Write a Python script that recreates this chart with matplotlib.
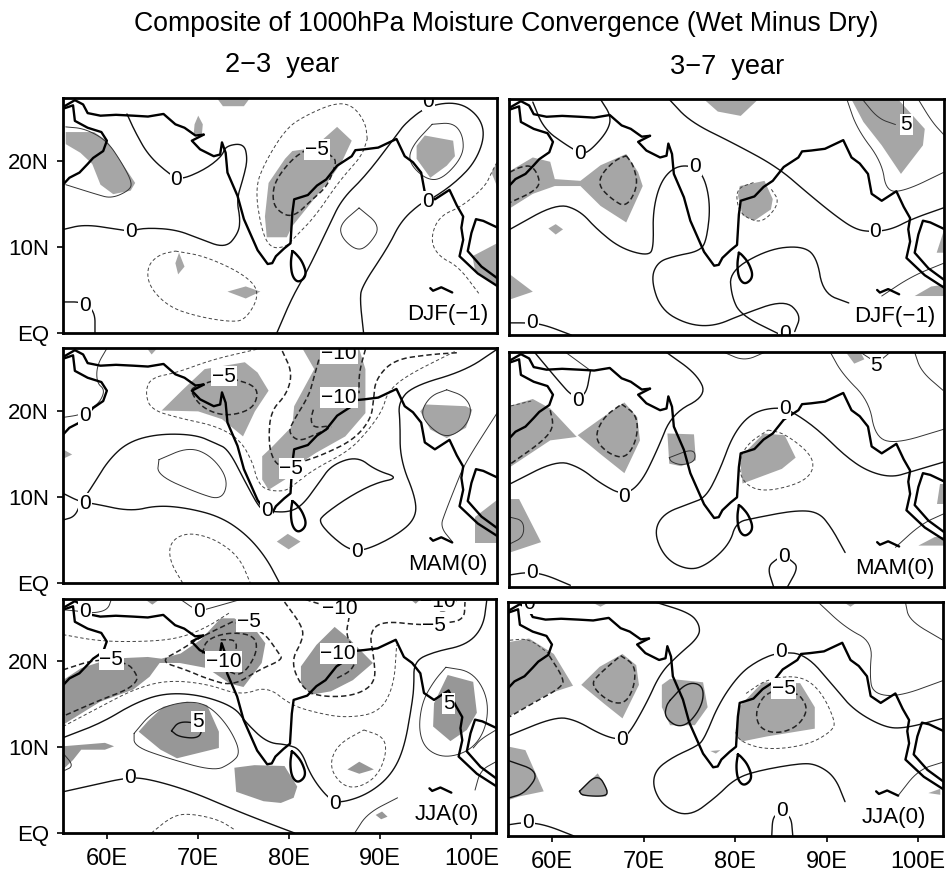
import matplotlib
matplotlib.use("Agg")
import matplotlib.pyplot as plt
from matplotlib.patches import Polygon

plt.rcParams['font.family'] = ['Liberation Sans', 'DejaVu Sans']

W, H = 947, 875
LON_MIN, LON_MAX = 55.2, 102.7
LAT_MIN, LAT_MAX = 0, 27.25

title = "Composite of 1000hPa Moisture Convergence (Wet Minus Dry)"
col_titles = ["2\u22123  year", "3\u22127  year"]
lon_ticks = [60, 70, 80, 90, 100]
lon_labels = ["60E", "70E", "80E", "90E", "100E"]
lat_ticks = [0, 10, 20]
lat_labels = ["EQ", "10N", "20N"]

# coastlines (lon, lat)
coast_iran = [(55.2,26.2),(56.5,27.0),(57.4,26.5),(57.9,25.5),(59.3,25.2),(61,25.3),(62.9,25.2),(64.5,25.1),(66.2,25.4),(67.5,24.2),(68.5,23.8),(69.7,22.9),(70.6,23.0)]
coast_arabia = [(55.2,26.0),(56.3,26.4),(56.5,24.6),(57.9,23.8),(59.4,23.3),(60,22.3),(59.6,21.1),(58.5,20.3),(57.9,19.6),(57,18.6),(55.9,18),(55.2,17.2)]
coast_india = [(70.6,23.0),(69.3,22.3),(70.2,21.3),(71.7,20.5),(72.4,20.7),(72.6,22.1),(73,20.9),(73.2,18.6),(74.3,15.9),(75,13.2),(76.5,9.6),(77.6,8),(78.1,8.1),(78.5,8.9),(79.4,9.8),(80.1,10.4),(80.3,13.9),(80.5,15.5),(82,16),(83,17.1),(84,17.8),(85.2,19.4),(86.8,20.5),(87.2,21.2),(88.2,21.3),(89.7,21.5),(91.7,22.5),(92.6,20.5),(93.5,19.8),(94.4,18.6),(94.8,16.3),(95.9,15.5),(97.5,16.6),(98.3,14.8),(99,13.5),(98.8,12.2),(99,10.8),(98.6,8.9),(100.6,6.9),(102.8,5.4)]
coast_thai = [(102.8,12.2),(101.2,13),(100.4,13.2),(99.9,11.6),(99.5,9.5),(101,7.7),(102.8,6.3)]
coast_sumatra = [(95.4,5.2),(95.7,4.9),(96.6,5.3),(97.8,4.7)]
coast_lanka = [(80.3,9.5),(80.1,8.1),(80.3,6.5),(81,5.8),(81.9,6.7),(81.4,8.3),(80.6,9.3),(80.3,9.5)]
coastlines = [coast_iran, coast_arabia, coast_india, coast_thai, coast_sumatra]

# 2-3 year DJF(-1)
djf23_shade = [
    [(55.5,23.3),(58.6,23.3),(60,22.3),(60.9,20.9),(63.1,17.4),(62.6,16.5),(60.7,16.1),(59.3,17.2),(58.4,19.6),(57.1,20.9),(55.5,21.9)],
    [(72,27.3),(75.7,27.3),(75,26.3),(72.7,26.3)],
    [(70,25.2),(70.5,24.2),(70.4,23),(69.5,23),(69.6,24.2)],
    [(67.9,9.3),(68.5,7.7),(67.8,6.8),(67.5,8.1)],
    [(73.2,4.8),(75.2,5.4),(76.8,4.8),(75.2,4.0)],
    [(80.3,21.1),(81.6,21.3),(84.1,20.5),(83.7,22.5),(85.2,23.9),(86.8,22.3),(85.7,19.8),(84.1,17.4),(80.3,12.4),(79.7,11.1),(77.5,11.1),(77.3,13.5),(77.7,17.4),(79.5,20.2)],
    [(94.8,22.9),(97.9,22.3),(98.1,20.5),(97.2,19.4),(95.4,18),(93.9,20.2),(93.9,21.7)],
    [(102.7,10.4),(102.7,5.4),(100.3,7.3),(100,8.9)],
    [(102.7,19.8),(102.1,18.6),(102.7,17)],
]
djf23_zero = [
    [(62.2,25.4),(63.1,23.3),(64.6,20.5),(67.1,18.2),(68.2,17.8),(70.8,19),(72.6,20.5),(73,21.7),(75,22),(75.4,20.2),(75,18.2),(74.2,15.5),(74.6,13.2),(74.4,11.6),(73,9.8),(70,11),(67.5,12),(64.2,12.2),(62.6,11.8),(61.3,12),(57.6,12.6),(55.2,12)],
    [(78.6,0),(80.3,4.2),(81.9,7.1),(84.3,12.4),(85.7,15.5),(88.3,18.2),(91.4,22.5),(92.7,24.4),(95.2,26.4),(98.5,26.8),(100.7,25.2),(101.4,22.9),(100.3,19.8),(98.1,17.4),(95.5,15.5),(94.4,15.1),(92.2,13),(90.8,10),(87.9,5.4),(87.7,3.8),(88.1,0)],
    [(55.3,3.6),(57.3,3.6),(58.7,2.5),(58.7,0)],
]
djf23_thin = [
    [(55.5,23.9),(57.6,23.7),(60,22.3),(61.6,19.8),(62.8,17.4),(62.4,16.5),(60.5,15.6),(58.8,16.1),(55.5,17.2)],
    [(95.6,24.2),(97.9,24.4),(99,22.9),(99,20.5),(96.7,17.8),(94.9,17.8),(93,19.8),(93.4,21.7),(95.6,24.2)],
    [(87.6,14.5),(90,12.4),(88.7,10.2),(87.4,9.5),(85.7,11),(85.5,12.6),(87.6,14.5)],
]
djf23_dash = [
    [(81.9,21.3),(80.3,20.2),(78.5,17.8),(78.1,15.9),(78.5,14.3),(80.3,13.3),(82.5,15.5),(84.1,17),(85,19.4),(85,20.2),(84.3,20.7)],
]
djf23_thindash = [
    [(88.5,22.5),(88.3,24.4),(86.9,26.4),(85,26.7),(81.7,25.2),(79.6,23.7),(77.3,19.8),(76.2,16.7),(77,11.6),(78,9.8),(79.6,10),(80.3,10.8),(82.8,13.5),(85.4,17.6),(87.9,20.5),(88.5,22.5)],
    [(67.5,9.5),(70.8,8.9),(75.2,6.7),(76.8,4.6),(75.2,1.5),(73.4,1.3),(70,1.9),(66.8,3),(64.6,5.4),(64.4,7.7),(65.7,9.1),(67.5,9.5)],
    [(102.7,19.8),(102.1,18.6),(101.4,17),(98.9,14.7),(96.3,13.5),(95.4,10.8),(96.3,8.9),(98.5,7.7),(100.7,4.6)],
]
djf23_labels = [("0",67.6,17.8),("0",62.6,11.8),("0",57.6,3.2),("0",95.1,15.3),("0",95.2,26.9),("\u22125",83,21.3)]

# 2-3 year MAM(0)
mam23_shade = [
    [(55.2,15.5),(56.2,14.9),(55.2,14.4)],
    [(64.4,27.2),(65.5,27.2),(64.9,26.5)],
    [(66,20),(68.3,22.4),(70.7,24.8),(75.1,25.6),(76.5,24.4),(77.7,22.3),(76.2,19.9),(74.9,17),(72.6,19),(70,19.9)],
    [(81.4,27.2),(87.6,27.2),(88.3,24.8),(88.3,19.7),(86.1,17),(82.9,15.1),(80.6,13.5),(79.5,12),(77.7,10.8),(77,12),(77,14.7),(78.1,15.8),(80.3,18.2),(80.5,20.5),(82.7,24.8)],
    [(94.3,19.9),(94.9,20.7),(99.3,20.5),(100,20.1),(99.3,18),(97.2,16.8),(95.4,17.8)],
    [(78.6,4.8),(79.8,5.7),(81.2,4.8),(79.9,3.9)],
    [(102.7,9.6),(102.7,4.6),(100.3,4.6),(100.3,7.7)],
]
mam23_zero = [
    [(55.2,10.4),(57.1,9.4),(58.6,9.2),(62.6,8.3),(65.5,9),(68.8,8.7),(72.4,7.7),(75.2,5.7),(77.4,3),(78.9,0)],
    [(55.2,7.3),(56.5,7.7),(57.1,9.2),(58.4,11.2),(60.2,14.3),(62.4,16.4),(65.7,17.3),(69.7,17.2),(71.9,16.2),(73.3,15.5),(75.2,11.6),(76.8,8.5),(77.7,8.3),(79.9,8.2),(81.4,9),(83.2,11.6),(84.6,13.7),(87.4,14.7),(89.4,13.1),(92,12.2),(89.4,11.6),(86.5,10),(83.7,7.9),(83.2,7.1),(84.6,5.4),(86.6,3.8),(88.3,3.8),(91.5,5.4),(93.7,7.3),(93.9,9.6),(92.1,14.3),(92.1,18.6),(91.9,20.9),(93.4,22.8),(99.2,24.6),(102.7,27.1)],
]
mam23_thin = [
    [(65.7,14.3),(69,15.8),(71.5,14.7),(73.3,12),(72.6,9.6),(70,10.4),(65.5,12.5),(65.7,14.3)],
    [(97.2,22.4),(99.1,21.7),(100,20.1),(99.2,18),(97.2,16.8),(95.4,18),(94.3,19.7),(95.4,21.7),(97.2,22.4)],
    [(60,27.2),(58.9,25.2),(58.9,23.2),(59.8,22.4),(59.2,20.9),(58,20.1),(57.1,19.5),(55.2,19.2)],
    [(102.7,19.7),(99.2,13.9),(98.3,11.6),(97,8.1),(96.5,6.5),(97.8,4.8)],
]
mam23_dash = [
    [(71.5,23.4),(69.7,22.8),(69.1,22.3),(70.4,20.3),(73,19.3),(75.9,20.1),(76.6,22),(75.9,23),(74,23.6)],
    [(79.2,26.9),(80.3,24.4),(79.7,21.9),(77.9,19.9),(77.7,16.2),(78.2,14.3),(79,13.5)],
    [(83.2,25.9),(82.6,23.6),(82.1,21.7),(80.3,18.6),(79.9,17.4),(81,16.4),(82.8,17.2),(84.6,18.1)],
    [(82.6,20.1),(82.3,19),(82.6,18),(84.3,18.2)],
    [(98.3,26.7),(95.4,26.5),(91.4,25.9),(89.4,23.6),(89.2,21.3),(88.9,19),(87,16.6),(83.7,14.9),(81.5,14.1)],
    [(88.3,27.1),(87.6,24.4),(87.6,22)],
]
mam23_thindash = [
    [(76.4,27.1),(71.5,25.9),(67.7,24.4),(64.8,23.8),(64.2,22.1),(64.8,20.1),(68,19.1),(72,18.2),(74.6,16.6),(76,13.9),(76.4,12),(77.3,10.8),(79.3,10.6),(80.3,11.2),(82.5,13.1),(86.5,15.3),(88.7,17.8),(90.2,20.1),(90.7,22.1),(92.7,24),(98.2,26.9)],
    [(68.3,0),(67,2.3),(66.8,4.2),(67.7,5.4),(69.4,5.8),(72,5),(74.5,3),(75.7,0)],
]
mam23_labels = [("\u22125",72.8,24),("\u221210",85.4,26.6),("\u221210",85.4,21.5),("\u22125",80.2,13.3),("0",57.6,19.4),("0",57.6,9.2),("0",77.5,8.4),("0",87.4,3.7)]

# 2-3 year JJA(0)
jja23_shade = [
    [(64.2,27.2),(65.8,27.2),(65,26.6)],
    [(55.2,17.8),(57.2,19.2),(60.4,20.3),(64.5,20.5),(66,20.3),(68.1,20.9),(70.3,22.5),(72.5,25),(74,25),(76.5,23.4),(77.4,22.1),(77,19.8),(75,17),(73.5,17.4),(71,19.2),(68,19.8),(65.8,19.8),(64.7,18.2),(62.9,16.7),(59.3,15.3),(55.2,12.6)],
    [(55.2,10.1),(59.8,10.5),(60.8,10.1),(59.8,9.7),(57.2,9.7),(56.3,8.5),(55.2,7.4)],
    [(66.2,14.7),(68.8,15.3),(71,14.9),(72.3,11.8),(72.3,9.9),(67.7,8.7),(65.9,9.7),(63.5,11.8),(64.5,13)],
    [(74,7.6),(76.2,7.9),(79.5,7.8),(80.9,5.4),(80.5,4.1),(79.1,3.5),(77.2,3.7),(74.2,4.8)],
    [(81.3,19.4),(83,21.9),(85,24),(86.7,22.5),(89.2,19.8),(87,17.8),(84.6,16.5),(82.4,16.1),(81.3,17.4)],
    [(86.4,7.4),(87.7,8.3),(89.3,7.4),(87.7,6.9)],
    [(89.5,2.1),(90.2,2.5),(90.8,1.9),(90.1,1.6)],
    [(95.9,15.1),(97.4,18.4),(100.2,17.6),(100.6,14),(99.5,12),(97.7,10.7),(95.8,12.4)],
    [(93.3,27.2),(94.4,27.2),(93.9,26.7)],
]
jja23_zero = [
    [(55.2,4.8),(58.6,5.6),(62,6.4),(64.2,6.4),(68.9,5),(74,2.7),(77.6,1.2),(80.6,0)],
    [(55.2,11.1),(59.4,12.8),(63,15.1),(66.3,16.3),(70.2,16.1),(74,14.7),(75.3,12.8),(77.6,10.5),(79.8,10.3),(81.3,9.7),(82.4,6.6),(84.4,3.9),(85.7,3.5),(88.6,4.5),(91.1,6.6),(92.6,9.7),(93.5,15.1),(93.7,17.1),(93.7,20),(95.9,21.1),(99.5,21.9),(101.3,24),(101.7,27.2)],
    [(67.1,11.9),(67.9,13),(70,12.8),(70.5,12),(70,11),(67.9,11.2),(67.1,11.9)],
]
jja23_thin = [
    [(87.2,0),(88.6,2.3),(91.9,4.1)],
    [(55.2,26),(57.2,25.8),(58.6,25.6),(60.1,26),(60.5,27.2)],
    [(68.1,27.2),(70,25.8),(71.4,26.2),(74.7,27.2)],
    [(97.2,19.3),(100.1,18.8),(101.8,15.9),(101.7,12.4),(100.1,9.7),(97.2,8.7),(95,9.7),(94.2,12),(94.6,15.3),(95.9,17.7),(97.2,19.3)],
    [(63,11.6),(64.9,14),(67.4,15.1),(70,15.3),(71.8,14.3),(73.6,12),(74.7,9.3),(73.6,8.1),(71.8,7.2),(66.7,8.7),(63,10.1),(63,11.6)],
    [(55.2,9.3),(56.4,7.8),(55.2,7.2)],
    [(102.7,12),(101,10.9),(100.2,9.9)],
    [(102.7,8.3),(101,7.3),(100.4,5)],
]
jja23_dash = [
    [(55.2,19),(59,20.3),(62.3,19.8),(63.2,18.6),(63.4,17.8),(62.3,16.7),(59.3,15.5),(55.2,13.6)],
    [(73.8,24.6),(70.1,22.7),(68.1,21.3),(65.8,20),(68.7,19),(70.9,18),(73.8,17.1),(76.7,19),(79.3,20.2),(78.9,20.9),(77.1,23.6),(73.8,24.6)],
    [(70.5,20.9),(70.9,22.5),(73.4,23.4),(76.3,23),(76.5,20.9),(74.8,18.2),(73,19)],
    [(72.5,22.5),(74.3,22.5),(74.1,20.7)],
    [(79.5,26.9),(81.5,24),(81.5,22.5),(80.2,20),(81.3,17.1),(83,15.9),(87,15.9),(89.5,17.4),(89.3,20.5),(88.8,23.3),(90.2,24.7),(94.6,24.2),(96.8,24.4),(99.2,24.8),(99.3,26.9)],
    [(86.6,25.2),(86.2,22.9),(87.5,21),(87,19),(85.2,18)],
    [(94.8,26.5),(97.2,25.6),(98.3,27)],
    [(81.8,27.2),(83.5,26.6),(86.6,26)],
]
jja23_thindash = [
    [(55.2,23.1),(59.4,22.3),(64.7,22.3),(68,22.7),(70.9,23.9),(73.4,25.6)],
    [(55.2,12.4),(59.3,14.7),(62.9,16.7),(66.5,17.8),(70.9,17.4),(74.7,16),(77.6,17.1),(80.2,14.9),(83,14),(86.2,13.4),(89.9,14),(91.5,17.1),(91.8,21.9)],
    [(88.2,12),(90.4,11.2),(90.7,9.3),(89.7,6.6),(87.5,5.2),(85.7,5.6),(84.4,7.8),(85.3,10.3),(88.2,12)],
    [(64.9,0),(67.1,1.9),(68.9,2.3),(72.2,1.6),(74,0.4)],
]
jja23_labels = [("0",57.6,25.8),("0",70.1,25.8),("\u22125",75.6,24.6),("\u221210",85.6,26.2),("\u221210",96.3,27.0),("\u22125",95.9,24.2),("\u22125",60.5,20.2),("\u221210",72.8,20),("\u221210",85.4,20.9),("5",70,13),("5",97.5,15.1),("0",62.5,6.5),("0",85,3.4)]

# 3-7 year DJF(-1)
djf37_shade = [
    [(55.4,19),(57.8,20.5),(59.7,20),(60.2,18),(63,17.8),(65.2,19.6),(68,20.9),(69.3,18.8),(69.8,17.2),(68,13),(65.2,14.9),(63,17.2),(60.2,17.2),(57.8,16.3),(55.4,14.7)],
    [(59.5,12.3),(60.3,12.8),(61.1,12.2),(60.3,11.6)],
    [(55.3,7),(57.8,5),(55.3,4.1)],
    [(76.5,27.2),(82.4,27.2),(80.5,25.3),(78,25.8)],
    [(80.4,17.2),(83.1,17.8),(84,15.7),(83.8,14.5),(82,13.2),(80.7,13.8),(80.2,16.1)],
    [(92.6,27.2),(97.7,27.2),(100.6,23.8),(100.4,21.9),(98,18.6),(95.9,21.9),(93.9,24.6)],
    [(102.6,11.8),(102.7,9.5),(101.9,9.5)],
    [(99.5,4.5),(101.3,5.6),(102.7,5.8),(102.7,4.5)],
]
djf37_zero = [
    [(65.2,27.2),(66.4,25.2),(65.9,23.4),(63.9,21.1),(63,21),(61.5,21.9),(59,23.8),(57.8,26.9)],
    [(55.3,12.2),(60.4,15.2),(62.9,14.4),(64.8,12.2),(67.4,10),(70.5,9.1),(71,10.3),(70.9,14.2),(71.7,17.6),(73.2,19.4),(75.1,19.6),(76.5,18.4),(77.2,15),(76.8,11.1),(76.1,9.7),(73.2,9.1),(71.4,8.4),(70.7,6.4),(71.8,2.9),(74.7,1.2),(77.6,1),(80.5,2.3),(85.3,4.1),(87.1,2.3),(86.4,0.4)],
    [(72.7,27.2),(75,24.6),(79.8,22.1),(84.5,19.4),(87.9,16.3),(90.8,13.8),(93,12.2),(94.8,11.9),(97,12.2),(99.2,13.4),(102.7,14.7)],
    [(92.3,3.7),(89.5,4.8),(88.8,9.1),(87.1,10.3),(83.5,9.9),(79.3,7.4),(79.5,4.5),(80.5,2.3),(84.9,0)],
    [(55.3,1.4),(57.3,1.4),(59,1.2),(62,0)],
]
djf37_thin = [
    [(92.1,27.2),(93.2,23.8),(95.9,20),(96.4,16.5),(98.6,16.7),(102.7,18.8)],
    [(99.9,27.2),(101.4,24.6),(102.7,23.1)],
    [(93.8,27.2),(95.5,25),(97.4,24.3)],
    [(98.2,27.2),(98.2,25.4)],
    [(95.9,4.5),(99.2,6.8),(102.7,8.3)],
]
djf37_dash = [
    [(55.3,18.8),(56.4,19.4),(57.8,19.6),(58.7,17.6),(57.8,16.5),(55.3,15.3)],
    [(68,20.7),(68.8,19.6),(69.3,17.2),(68,14.7),(66.4,15.7),(65,17.2),(65.3,18.6),(66.8,20.2),(68,20.7)],
]
djf37_thindash = [
    [(81.9,17.6),(80,16.9),(80.2,14.5),(81.3,13.4),(83,13),(84.8,15.3),(83.8,16.9)],
]
djf37_labels = [("0",62.9,21),("0",75.5,19.5),("0",95.2,11.9),("0",57.7,1.4),("0",85.3,0.2),("5",98.6,24.3)]

# 3-7 year MAM(0)
mam37_shade = [
    [(55.3,21),(57.8,21.8),(59.7,20.7),(62.6,17.4),(59.7,17),(55.3,13.9)],
    [(62.7,17.6),(65.2,19.5),(67.8,21.4),(69.2,19.7),(69.5,17),(67.8,13.2),(65.2,15.4)],
    [(72.5,17.8),(75.4,17.7),(75.6,14.7),(74,14),(72.7,14.3)],
    [(80.4,15),(83,17.8),(85.3,17.6),(86.5,15),(85,13.7),(80.7,12)],
    [(55.3,10.2),(56.3,10.2),(58.7,5.2),(55.3,4)],
    [(92,27.2),(93.6,27.2),(94,26.4),(92.9,25.9)],
    [(102.3,12),(102.7,12),(102.7,9.6),(101.9,9.6)],
    [(99.9,4.8),(101.7,5.8),(102.7,5.8),(102.7,4.8)],
]
mam37_zero = [
    [(58,27.2),(60.6,23.9),(62.2,22),(63.6,22.2),(64.1,25.1)],
    [(55.4,12),(60.4,14.7),(62.9,13.9),(65.2,12),(67.7,10.6),(69.6,12),(71.4,15.9),(73,20.1),(76.8,22.2),(75.7,24.7),(72.4,27.2)],
    [(91.9,4),(90.4,6.9),(89,8.7),(86.5,8.9),(82,8),(80,7.5),(79.3,5),(77,2.7),(75,1.9),(72.4,3.1),(71,6.2),(72,8.5),(75,9.7),(76.7,10.4),(78.2,13.5),(79.7,17.8),(81.8,20.3),(84.8,20.9),(86.5,20.1),(89,18.2),(92,15.1),(94.4,13.4),(97,12.7),(99.2,13.4),(102.7,14.5)],
    [(55.3,1.4),(57.1,1.7),(59,1.5),(61.9,0.2)],
    [(84.1,0),(83.4,2.3),(84.5,3.3),(85.2,3.6),(86,3.1),(86.8,2.3),(85.6,0)],
]
mam37_thin = [
    [(61.4,27.2),(64.1,25.1)],
    [(78.7,27.2),(80.9,26.2),(83.1,27.2)],
    [(90.3,27.2),(91.6,24.7),(94.5,21.6),(95.2,17.4),(97.4,16.6),(102.7,18.3)],
    [(99.5,27.2),(100.2,25),(102.6,22.8)],
    [(93.6,27.2),(94.9,26.3)],
    [(95.9,26.4),(96.8,27.2)],
    [(97.4,4.6),(100.2,7.3),(102.7,8.5)],
    [(72.7,15),(75.4,16.1),(75.6,14.6),(74.1,14.1),(72.9,14.5),(72.7,15)],
    [(55.3,8.1),(56.8,7.7),(56.8,5.8),(55.3,5)],
]
mam37_dash = [
    [(59.7,20.5),(60.1,18.6),(59,17),(55.4,14.3)],
    [(67.5,21.2),(69.2,19.9),(69.2,17.2),(68,14.9),(66.1,15.4),(64.5,17.2),(65.5,19.7),(67.5,21.2)],
]
mam37_thindash = [
    [(55.4,21),(57.8,21.6)],
    [(83.5,18.2),(85.3,17.8),(88.2,15.4),(88.5,13.5),(87,12),(83,11),(80.8,12),(80.2,14.3),(81.2,16.6),(83.5,18.2)],
]
mam37_labels = [("0",62.7,21.6),("0",67.8,10.5),("0",85.3,20.7),("0",57.7,1.7),("0",85.2,3.5),("5",95.3,25.7)]

# 3-7 year JJA(0)
jja37_shade = [
    [(55.4,22.6),(57.5,23),(60.2,21.2),(62.3,17.5),(59.7,16.6),(55.3,13.9)],
    [(63.2,17.6),(65.2,19.7),(67.7,21.2),(69.2,19.9),(69.5,17.6),(67.7,13.7),(65.7,15.4)],
    [(72,17.6),(72.9,18.3),(76.5,17.9),(77,15),(75.6,12.9),(72.9,12.9),(72,15)],
    [(80.4,15),(83,17.9),(87.1,17.8),(88.7,15),(88.7,12.5),(83.5,11.6),(80.7,11),(80,11.9)],
    [(77.3,9.9),(78.4,10),(77.9,9.6)],
    [(55.3,10.4),(57.1,10),(59.1,5.2),(56.4,4.6),(55.3,4.2)],
    [(63,5.2),(65,7.3),(66.1,5.3),(65.9,4.6),(63.3,4.7)],
    [(64.4,27.2),(66.2,27.2),(65.3,26.7)],
    [(91.9,27.2),(93.3,27.2),(92.6,26.7)],
    [(101.1,5),(102.4,5.5),(102.4,4.8)],
]
jja37_zero = [
    [(71.4,27.2),(75,26),(76.1,24.7),(76.1,23.2),(73.6,20.9),(71.8,18.9),(70.3,15.4),(68.3,11.7),(67.2,11.2),(65.2,11.9),(62.6,13.5),(60.4,13.9),(55.3,11.7)],
    [(92,4),(90.9,6.9),(89,8.3),(87.2,8.5),(82,7.5),(79.8,6.5),(78,4.6),(75,2.2),(72.2,3.4),(71,5.7),(71.3,7.7),(73.2,9.2),(75.7,10.4),(76.6,11.2),(78.2,15.4),(80.5,18.9),(82.6,20.5),(84.8,21.4),(87.7,21.2),(90.8,17.4),(92.9,14.7),(96.2,12.7),(98.4,12.5),(102.7,13.7)],
    [(55.2,1.3),(57.1,1.6),(59.3,1.3),(62.4,0)],
    [(84,0),(84.1,2.2),(84.8,2.6),(86.1,2.4),(86.3,0)],
    [(72.9,15.8),(74.7,17.9),(76.5,17.6),(76.5,15.4),(75,13.1),(73.6,12.7),(72.3,13.9),(72.5,15.2),(72.9,15.8)],
    [(63,5.2),(65,7.3),(66.1,5.3),(65.9,4.6),(63.3,4.7),(63,5.2)],
    [(55.2,8.8),(58.7,7.5),(57.1,5),(55.2,4.4)],
]
jja37_thin = [
    [(89.1,27.2),(92,24.3),(95,22.6),(94.7,18.9),(95,16.6),(97.8,16.2),(102.7,18.1)],
    [(98.6,27.2),(99,25.1),(102.7,22.8)],
    [(97.8,4.7),(100,7.7),(102.7,8.6)],
]
jja37_dash = [
    [(59.7,21),(61.2,18.5),(61.2,17.4),(57.8,15.4),(55.4,13.9)],
    [(67.5,21),(69.1,19.9),(69,17.4),(68,15.4),(66.2,15.6),(64.2,17.6),(65.2,18.9),(67.5,21)],
    [(84,16.8),(83,16.2),(82.2,14.3),(82.7,12.5),(84.6,11.9),(86.8,12.7),(88,14.7),(87.1,16.4),(86.4,16.6)],
]
jja37_thindash = [
    [(55.4,22.8),(57.5,23),(59.7,21.2)],
    [(81.2,16.6),(83.5,18.3),(87.1,18.7),(89.3,17),(90.9,13.5),(90.7,12.3),(88,10.6),(83.5,10),(80.5,11),(80,12.3)],
]
jja37_labels = [("0",57.5,27.1),("0",67.6,11.2),("0",85,21.5),("0",57.4,1.6),("0",85.1,3),("\u22125",85.3,17.2)]

seasons = ["DJF(\u22121)", "MAM(0)", "JJA(0)"]


def round_corners(line, passes=3):
    # corner cutting so the read-off vertices draw as a curve, ends stay put
    pts = list(line)
    for _ in range(passes):
        new = [pts[0]]
        for a, b in zip(pts[:-1], pts[1:]):
            new.append((0.75*a[0]+0.25*b[0], 0.75*a[1]+0.25*b[1]))
            new.append((0.25*a[0]+0.75*b[0], 0.25*a[1]+0.75*b[1]))
        new.append(pts[-1])
        pts = new
    return pts


def draw_lines(ax, lines, smooth=True, **kw):
    for line in lines:
        pts = round_corners(line) if smooth else line
        xs, ys = zip(*pts)
        ax.plot(xs, ys, solid_capstyle='round', **kw)


def panel(box, shade, zero, thin, dash, thindash, labels, season, gray='#a6a6a6'):
    left, top, right, bottom = box
    ax = fig.add_axes([left/W, 1-bottom/H, (right-left)/W, (bottom-top)/H])
    ax.set_xlim(LON_MIN, LON_MAX)
    ax.set_ylim(LAT_MIN, LAT_MAX)
    for poly in shade:
        ax.add_patch(Polygon(poly, closed=True, fc=gray, ec='none', zorder=1))
    draw_lines(ax, zero, color='#111111', lw=1.0, zorder=2)
    draw_lines(ax, thin, color='#333333', lw=0.7, zorder=2)
    draw_lines(ax, dash, color='#222222', lw=1.1, ls=(0, (3.5, 2)), zorder=2)
    draw_lines(ax, thindash, color='#444444', lw=0.7, ls=(0, (3.5, 2.5)), zorder=2)
    draw_lines(ax, coastlines, smooth=False, color='black', lw=1.7, zorder=3)
    draw_lines(ax, [coast_lanka], color='black', lw=1.7, zorder=3)
    for txt, x, y in labels:
        ax.text(x, y, txt, ha='center', va='center', fontsize=15, zorder=4, clip_on=True,
                bbox=dict(fc='white', ec='none', pad=0.6))
    ax.text(97.3, 2.1, season, ha='center', va='center', fontsize=16, zorder=4)
    for s in ax.spines.values():
        s.set_linewidth(2.0)
        s.set_zorder(5)
    ax.set_xticks([])
    ax.set_yticks([])
    return ax


fig = plt.figure(figsize=(W/100, H/100), dpi=100)

left_col = [(63, 98, 497, 333), (63, 348, 497, 583), (63, 599, 496, 833)]
right_col = [(509, 99, 944, 335), (509, 352, 944, 587), (508, 602, 943, 836)]

panels_left = [
    (djf23_shade, djf23_zero, djf23_thin, djf23_dash, djf23_thindash, djf23_labels),
    (mam23_shade, mam23_zero, mam23_thin, mam23_dash, mam23_thindash, mam23_labels),
    (jja23_shade, jja23_zero, jja23_thin, jja23_dash, jja23_thindash, jja23_labels),
]
panels_right = [
    (djf37_shade, djf37_zero, djf37_thin, djf37_dash, djf37_thindash, djf37_labels),
    (mam37_shade, mam37_zero, mam37_thin, mam37_dash, mam37_thindash, mam37_labels),
    (jja37_shade, jja37_zero, jja37_thin, jja37_dash, jja37_thindash, jja37_labels),
]

for i in range(3):
    gray = '#979797' if i == 2 else '#a6a6a6'
    ax = panel(left_col[i], *panels_left[i], seasons[i], gray=gray)
    ax.set_yticks(lat_ticks)
    ax.set_yticklabels(lat_labels, fontsize=16)
    ax.tick_params(axis='y', length=4, width=1.2, pad=6)
    if i == 2:
        ax.set_xticks(lon_ticks)
        ax.set_xticklabels(lon_labels, fontsize=17)
        ax.tick_params(axis='x', length=4, width=1.2, pad=7)
    ax2 = panel(right_col[i], *panels_right[i], seasons[i], gray='#a6a6a6')
    if i == 2:
        ax2.set_xticks(lon_ticks)
        ax2.set_xticklabels(lon_labels, fontsize=17)
        ax2.tick_params(axis='x', length=4, width=1.2, pad=7)

fig.text(506/W, 1-24/H, title, ha='center', va='center', fontsize=19.2)
fig.text(282/W, 1-65/H, col_titles[0], ha='center', va='center', fontsize=19.5)
fig.text(727/W, 1-67/H, col_titles[1], ha='center', va='center', fontsize=19.5)

fig.savefig('out.png', dpi=100)
